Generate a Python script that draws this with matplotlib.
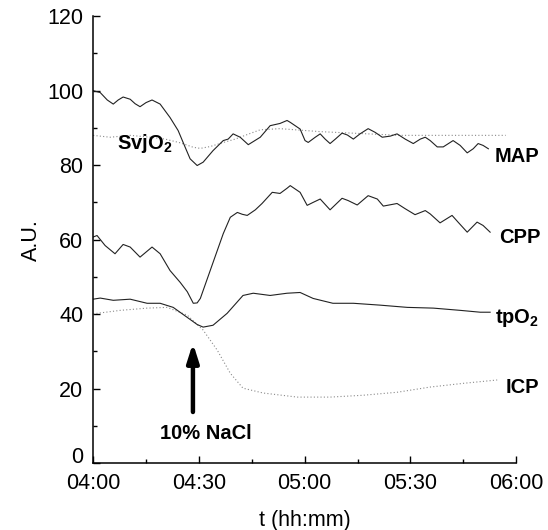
import matplotlib
matplotlib.use("Agg")
from matplotlib import ticker, pyplot as plt

plt.rcParams["font.family"] = ["Liberation Sans", "DejaVu Sans"]
plt.rcParams["mathtext.fontset"] = "custom"
plt.rcParams["mathtext.rm"] = "Liberation Sans"
plt.rcParams["mathtext.bf"] = "Liberation Sans:bold"

# time in minutes after 04:00
map_t = [0, 2, 4, 5.7, 7.1, 8.5, 10.5, 11.9, 13.3, 15, 16.7, 19, 21.8, 24.1, 26.1, 27.5, 29.5, 31.2,
         34, 36.9, 38.3, 39.7, 41.7, 44, 45.7, 47.4, 50.2, 53, 55, 55.9, 58.7, 60.1, 61, 63, 64.4, 65.8,
         67.2, 68.7, 70.6, 72.1, 73.8, 75.7, 78, 80, 82, 84.3, 86.2, 88.5, 90.8, 92.8, 94.2, 95.6, 97.6,
         99.3, 102.1, 104.1, 106.1, 107.8, 109.2, 110.6, 112.1]
map_v = [100, 99.5, 97.5, 96.4, 97.5, 98.3, 97.7, 96.5, 95.7, 96.8, 97.5, 96.4, 92.8, 89.3, 84.8, 81.7,
         79.9, 80.8, 83.9, 86.6, 87, 88.4, 87.5, 85.5, 86.5, 87.5, 90.6, 91.2, 92, 91.5, 89.7, 86.6, 86.1,
         87.5, 88.4, 87, 85.8, 87, 88.6, 88.1, 87, 88.4, 89.8, 88.8, 87.5, 87.8, 88.4, 87, 85.8, 87, 87.5,
         86.6, 84.9, 84.9, 86.6, 85.3, 83.3, 84.4, 85.8, 85.3, 84.4]

svj_t = [0, 4.8, 10.5, 16.2, 20.4, 24.7, 28.4, 30.4, 33.2, 36.6, 40.3, 44.5, 47.4, 53, 64.4, 75.7,
         87.1, 98.4, 107, 117]
svj_v = [88, 87.5, 88, 87.5, 87, 86, 84.8, 84.5, 85, 86, 87, 88.5, 89.5, 89.8, 89, 88.5, 88, 88, 88, 88]

cpp_t = [0, 1.1, 3.4, 6.2, 8.5, 10.5, 13.3, 16.7, 19, 21.8, 24.7, 26.7, 28.4, 29.5, 30.4, 33.2, 36.9,
         38.9, 40.9, 42.3, 43.7, 46, 47.9, 50.8, 53, 55, 55.9, 58.7, 60.7, 62.4, 64.4, 67.2, 70.6, 72.3,
         74.9, 78, 80.6, 82.3, 86.2, 88.5, 91.3, 94.2, 95.6, 98.4, 101.8, 103.5, 106.1, 108.9, 110.6,
         112.6]
cpp_v = [60.7, 61.1, 58.4, 56.2, 58.7, 58, 55.3, 58, 56.2, 51.7, 48.5, 46, 42.9, 43, 44.2, 51.7, 61.6,
         66, 67.3, 66.8, 66.5, 68, 69.7, 72.7, 72.4, 73.8, 74.5, 72.7, 69.2, 70, 70.9, 68, 71.1, 70.5,
         69.3, 71.8, 70.9, 69, 69.7, 68.3, 66.7, 67.8, 66.9, 64.5, 66.5, 64.7, 62, 64.7, 63.8, 62]

tpo_t = [0, 2, 5.7, 10.5, 15.3, 19, 22.7, 26.7, 29.5, 31.2, 34, 38, 42.5, 45.4, 50.2, 55, 58.7, 62.4,
         68, 73.8, 81.4, 89.1, 96.5, 104.1, 109.8, 112.6]
tpo_v = [44, 44.3, 43.7, 44, 42.9, 42.9, 41.8, 39.1, 37.2, 36.5, 37, 40.2, 45, 45.6, 45, 45.6, 45.8,
         44.2, 42.9, 42.9, 42.4, 41.8, 41.6, 41, 40.5, 40.5]

icp_t = [0, 1.1, 7.7, 15.3, 21, 26.7, 31.2, 35.2, 38.9, 42.5, 48.2, 57.9, 67.2, 76.6, 86.2, 95.6,
         105, 114.6]
icp_v = [40, 40.2, 41, 41.6, 41.8, 39.7, 35.7, 30.3, 24.1, 20.1, 18.8, 17.7, 17.7, 18.2, 19, 20.4,
         21.4, 22.3]

x_ticks = [0, 30, 60, 90, 120]
x_labels = ["04:00", "04:30", "05:00", "05:30", "06:00"]
y_ticks = [0, 20, 40, 60, 80, 100, 120]

fig = plt.figure(figsize=(5.48, 5.30), dpi=100)
ax = fig.add_axes([0.170, 0.1264, 0.772, 0.843])

solid = dict(color="#222222", lw=0.8, solid_joinstyle="round")
dotted = dict(color="#8a8a8a", lw=0.8, ls=(0, (1, 2)))

ax.plot(svj_t, svj_v, **dotted)
ax.plot(icp_t, icp_v, **dotted)
ax.plot(map_t, map_v, **solid)
ax.plot(cpp_t, cpp_v, **solid)
ax.plot(tpo_t, tpo_v, **solid)

ax.set_xlim(0, 120)
ax.set_ylim(0, 120)
ax.set_xticks(x_ticks)
ax.set_xticklabels(x_labels)
ax.set_yticks(y_ticks)
ax.set_yticklabels([str(v) for v in y_ticks])
ax.xaxis.set_minor_locator(ticker.MultipleLocator(15))
ax.yaxis.set_minor_locator(ticker.MultipleLocator(10))

for side in ["top", "right"]:
    ax.spines[side].set_visible(False)
for side in ["left", "bottom"]:
    ax.spines[side].set_linewidth(1.1)

ax.tick_params(which="major", direction="in", length=5, width=1, labelsize=15.5, pad=7)
ax.tick_params(which="minor", direction="in", length=3, width=1)

# the "0" sits a bit higher so it clears 04:00
ax.get_yticklabels()[0].set_va("baseline")

ax.set_xlabel("t (hh:mm)", fontsize=15.5, labelpad=12)
ax.set_ylabel("A.U.", fontsize=15.5, labelpad=4)

lab = dict(fontsize=14.5, fontweight="bold", va="center", clip_on=False)
ax.text(14.6, 85.8, r"SvjO$_\mathbf{2}$", ha="center", **lab)
ax.text(114.0, 82.3, "MAP", ha="left", **lab)
ax.text(115.2, 60.6, "CPP", ha="left", **lab)
ax.text(114.0, 39.0, r"tpO$_\mathbf{2}$", ha="left", **lab)
ax.text(116.9, 20.4, "ICP", ha="left", **lab)

ax.annotate("", xy=(28.3, 32.2), xytext=(28.3, 13.7),
            arrowprops=dict(arrowstyle="-|>,head_length=1.1,head_width=0.35",
                            color="black", lw=3.2, shrinkA=0, shrinkB=0))
ax.text(31.9, 8.0, "10% NaCl", ha="center", **lab)

fig.savefig("out.png", dpi=100)
